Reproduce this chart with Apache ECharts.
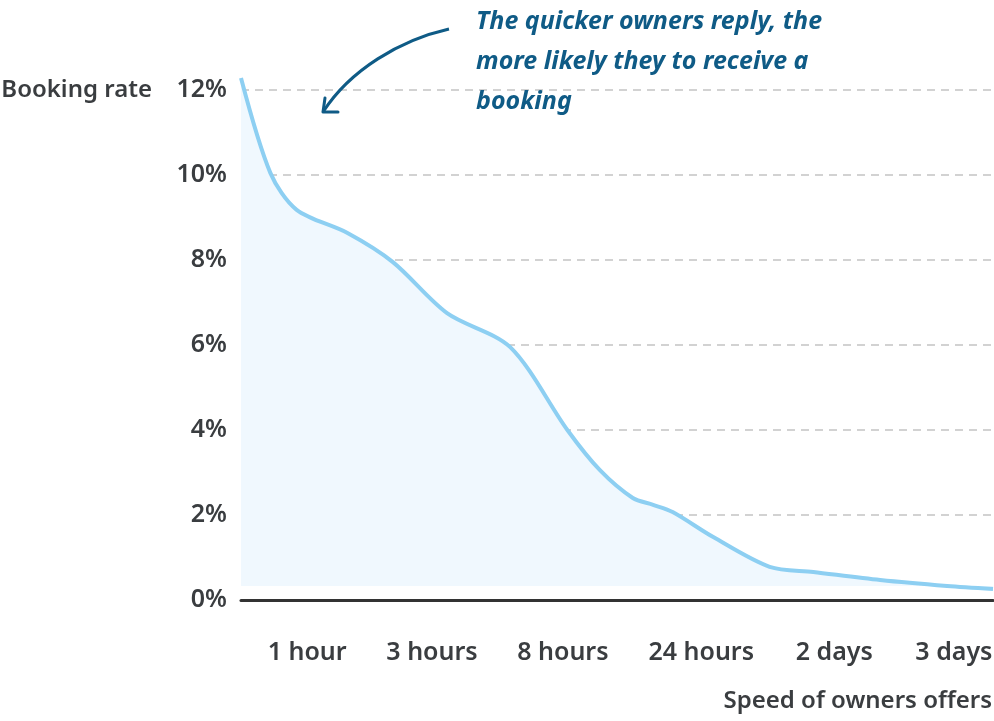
<!DOCTYPE html>
<html>
<head>
<meta charset="utf-8">
<script src="https://cdn.jsdelivr.net/npm/echarts@6/dist/echarts.min.js"></script>
<style>
html,body{margin:0;padding:0;background:#fff;}
#chart{width:994px;height:721px;}
</style>
</head>
<body>
<div id="chart"></div>
<script>
// Category tick labels and where they sit along the x scale (0..100)
const categories = ['1 hour', '3 hours', '8 hours', '24 hours', '2 days', '3 days'];
const categoryPos = [8.8, 25.4, 42.8, 61.2, 78.9, 94.8];
// Curve knots: position along x scale and booking rate (%)
const xPos = [0, 3.9, 7.4, 14.1, 20.2, 27.4, 35.8, 43.4, 47.7, 52.1, 54.8, 57.4, 62.8, 70.3, 76.1, 85, 93.9, 100];
const rate = [12.28, 10.05, 9.18, 8.64, 7.95, 6.75, 5.95, 4.0, 3.06, 2.4, 2.24, 2.07, 1.48, 0.78, 0.66, 0.47, 0.33, 0.26];
const yTicks = [0, 2, 4, 6, 8, 10, 12];
const annotation = 'The quicker owners reply, the\nmore likely they to receive a\nbooking';

const font = '"Noto Sans", sans-serif';
const textColor = '#3a3d40';
const annColor = '#0f5b86';
const fs = 25;
const fsName = 24;
const fw = 600;

const chart = echarts.init(document.getElementById('chart'));
chart.setOption({
  animation: false,
  grid: { left: 241, right: 1, top: 90, bottom: 121, containLabel: false, outerBoundsMode: 'none' },
  xAxis: {
    type: 'value', min: 0, max: 100,
    name: 'Speed of owners offers',
    nameLocation: 'end', nameGap: 0,
    nameTextStyle: { fontFamily: font, fontSize: fsName, fontWeight: fw, color: textColor, align: 'right', verticalAlign: 'top', padding: [89, 1, 0, 0] },
    axisLine: { show: true, onZero: true, lineStyle: { color: '#333', width: 3 } },
    axisTick: { show: false },
    splitLine: { show: false },
    axisLabel: {
      customValues: categoryPos,
      margin: 40,
      fontFamily: font, fontSize: fs, fontWeight: fw, color: textColor,
      formatter: function (v) {
        const i = categoryPos.findIndex(p => Math.abs(p - v) < 1e-6);
        return i >= 0 ? categories[i] : '';
      }
    }
  },
  yAxis: {
    type: 'value', min: yTicks[0], max: yTicks[yTicks.length - 1], interval: 2,
    name: 'Booking rate',
    nameLocation: 'end', nameGap: 0,
    nameTextStyle: { fontFamily: font, fontSize: fsName, fontWeight: fw, color: textColor, align: 'right', verticalAlign: 'middle', padding: [0, 89, 0, 0] },
    axisLine: { show: false },
    axisTick: { show: false },
    axisLabel: { margin: 14, fontFamily: font, fontSize: fs, fontWeight: fw, color: textColor, formatter: '{value}%' },
    splitLine: { show: true, lineStyle: { color: '#d2d2d2', width: 2, type: [8, 6] } }
  },
  series: [{
    type: 'line',
    data: xPos.map((x, i) => [x, rate[i]]),
    smooth: 0.3,
    clip: false,
    showSymbol: false,
    symbol: 'none',
    lineStyle: { color: '#8dcff2', width: 4 },
    areaStyle: { color: '#f0f8fe', origin: 0.33, opacity: 1 },
    z: 3
  }],
  graphic: [
    {
      type: 'text', left: 476, top: 2, z: 10,
      style: { text: annotation, fontFamily: font, fontSize: fs, fontWeight: 'bold', fontStyle: 'italic', fill: annColor, lineHeight: 40 }
    },
    {
      type: 'bezierCurve', z: 10,
      shape: { x1: 449, y1: 29, cpx1: 400, cpy1: 40, cpx2: 350, cpy2: 70, x2: 323, y2: 112 },
      style: { stroke: annColor, lineWidth: 3, fill: null }
    },
    {
      type: 'polyline', z: 10,
      shape: { points: [[325, 98], [323, 112], [338, 112]] },
      style: { stroke: annColor, lineWidth: 3, fill: null, lineCap: 'round', lineJoin: 'round' }
    }
  ]
});
</script>
</body>
</html>
